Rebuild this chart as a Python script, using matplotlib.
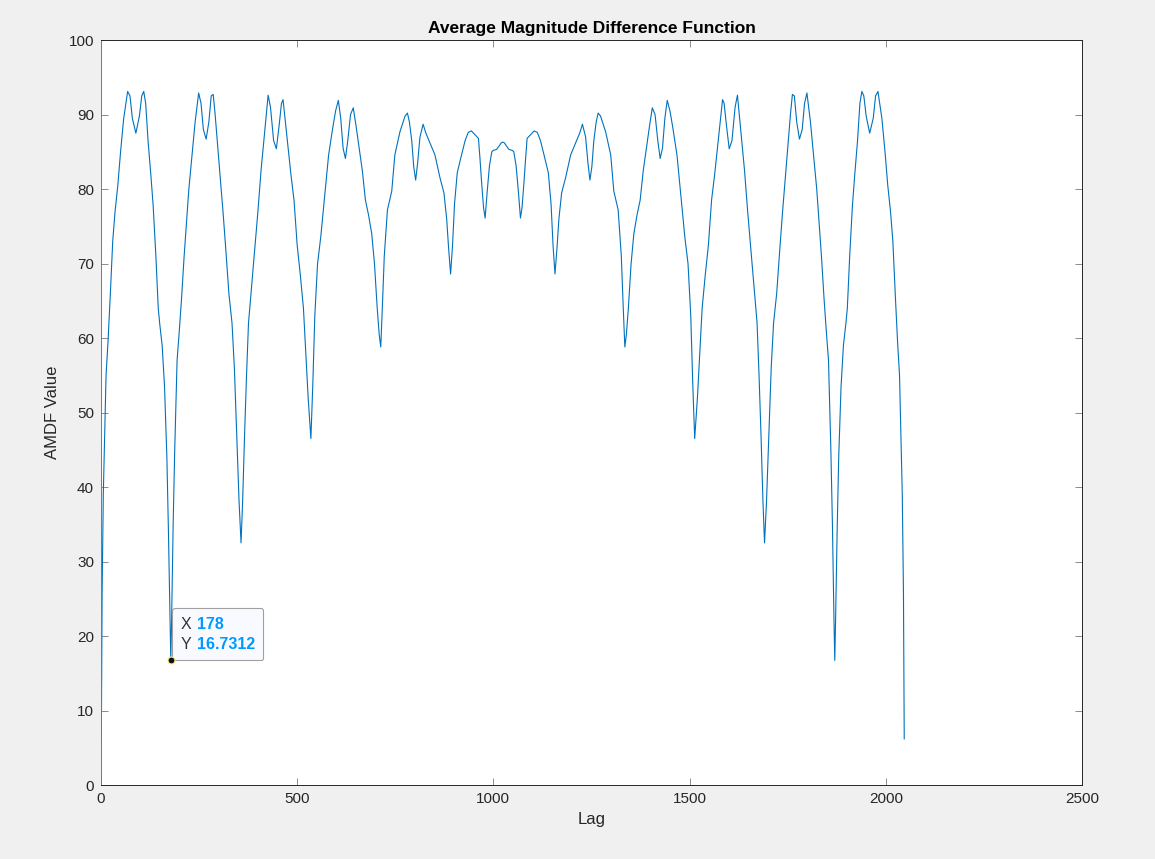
import matplotlib
matplotlib.use("Agg")
import matplotlib.pyplot as plt
from matplotlib.offsetbox import TextArea, HPacker, VPacker, AnnotationBbox

plt.rcParams['font.family'] = ['Liberation Sans', 'DejaVu Sans']

# AMDF curve (lag, value)
lags = [1, 3, 6, 10, 13, 18, 24, 30, 36, 43, 50, 58, 68, 74, 80, 89, 98, 104, 109, 114,
        120, 127, 133, 140, 146, 150, 156, 162, 168, 172, 176, 178, 180, 184, 188, 194, 199,
        205, 212, 218, 224, 232, 240, 249, 255, 261, 268, 275, 281, 286, 291, 297, 304, 311,
        318, 326, 334, 340, 346, 352, 357, 361, 366, 371, 376, 384, 392, 400, 408, 416, 426,
        432, 440, 447, 454, 460, 464, 470, 477, 484, 492, 500, 508, 516, 522, 528, 535, 540,
        545, 552, 560, 570, 580, 590, 598, 605, 611, 617, 623, 629, 636, 643, 650, 658, 666,
        674, 682, 690, 697, 704, 709, 713, 717, 722, 730, 741, 749, 762, 775, 781, 786, 792,
        797, 802, 807, 813, 821, 828, 840, 851, 864, 874, 881, 886, 891, 896, 901, 908, 919,
        928, 936, 944, 953, 962, 966, 970, 975, 979, 984, 990, 996, 1000, 1008, 1015, 1020,
        1024,
        1028, 1033, 1040, 1048, 1052, 1058, 1064, 1069, 1073, 1078, 1082, 1086, 1095, 1104,
        1112, 1120, 1129, 1140, 1147, 1152, 1157, 1162, 1167, 1174, 1184, 1197, 1208, 1220,
        1227, 1235, 1241, 1246, 1251, 1256, 1262, 1267, 1273, 1286, 1299, 1307, 1318, 1326,
        1331, 1335, 1339, 1344, 1351, 1358, 1366, 1374, 1382, 1390, 1398, 1405, 1412, 1419,
        1425, 1431, 1437, 1443, 1450, 1458, 1468, 1478, 1488, 1496, 1503, 1508, 1513, 1520,
        1526, 1532, 1540, 1548, 1556, 1564, 1571, 1578, 1584, 1588, 1594, 1601, 1608, 1616,
        1622, 1632, 1640, 1648, 1656, 1664, 1672, 1677, 1682, 1687, 1691, 1696, 1702, 1708,
        1714, 1722, 1730, 1737, 1744, 1751, 1757, 1762, 1767, 1773, 1780, 1787, 1793, 1799,
        1808, 1816, 1824, 1830, 1836, 1843, 1849, 1854, 1860, 1864, 1868, 1870, 1872, 1876,
        1880, 1886, 1892, 1898, 1902, 1908, 1915, 1921, 1928, 1934, 1939, 1944, 1950, 1959,
        1968, 1974, 1980, 1990, 1998, 2005, 2012, 2018, 2024, 2030, 2035, 2038, 2042, 2045,
        2047]
amdf = [6.2, 26, 39, 48, 55, 59.5, 66, 73, 77, 80.5, 85, 89.5, 93.1, 92.5, 89.5, 87.5, 89.8,
        92.5, 93.1, 91.5, 86.5, 82, 77.8, 71, 64, 61.8, 59, 53.5, 44, 34, 22, 16.73, 22, 35,
        45, 57, 60.5, 65, 71, 75.5, 80, 84.5, 89, 92.9, 91.5, 88, 86.7, 89, 92.5, 92.7, 90, 86,
        81.5, 77, 72, 66, 62, 56, 47, 38, 32.5, 38, 47, 55, 62, 67, 72, 77, 82.5, 87, 92.6,
        91, 86.5, 85.4, 88.5, 91.5, 92, 89, 85.5, 82, 78.5, 72.5, 68.5, 64, 58, 52, 46.5, 54,
        63, 70, 73.5, 79, 84.5, 88, 90.5, 91.9, 89.5, 85.5, 84.1, 86.5, 90, 90.9, 88.5, 85.5,
        82.5, 78.5, 76.5, 74, 70, 64, 60.5, 58.8, 64, 71, 77.2, 79.7, 84.6, 87.7, 89.8, 90.2,
        89, 86.5, 83, 81.2, 83.5, 87, 88.7, 87.5, 86, 84.6, 81.5, 79.5, 76, 72, 68.6, 72.5, 78,
        82.2, 84.6, 86.5, 87.6, 87.8, 87.3, 86.8, 84, 80.9, 77.5, 76.1, 79.5, 83.1, 85, 85.2,
        85.3, 85.8, 86.2,
        86.3,
        86.2, 85.8, 85.3, 85.2, 85.0, 83.1, 79.5, 76.1, 77.5, 80.9, 84, 86.8, 87.3, 87.8,
        87.6, 86.5, 84.6, 82.2, 78, 72.5, 68.6, 72, 76, 79.5, 81.5, 84.6, 86, 87.5, 88.7, 87,
        83.5, 81.2, 83, 86.5, 89, 90.2, 89.8, 87.7, 84.6, 79.7, 77.2, 71, 64, 58.8, 60.5, 64,
        70, 74, 76.5, 78.5, 82.5, 85.5, 88.5, 90.9, 90, 86.5, 84.1, 85.5, 89.5, 91.9, 90.5,
        88, 84.5, 79, 73.5, 70, 63, 54, 46.5, 52, 58, 64, 68.5, 72.5, 78.5, 82, 85.5, 89, 92,
        91.5, 88.5, 85.4, 86.5, 91, 92.6, 87, 82.5, 77, 72, 67, 62, 55, 47, 38, 32.5, 38, 47,
        56, 62, 66, 72, 77, 81.5, 86, 90, 92.7, 92.5, 89, 86.7, 88, 91.5, 92.9, 89, 84.5, 80,
        75.5, 71, 65, 60.5, 57, 45, 35, 22, 16.73, 22, 34, 44, 53.5, 59, 61.8, 64, 71, 77.8,
        82, 86.5, 91.5, 93.1, 92.5, 89.8, 87.5, 89.5, 92.5, 93.1, 89.5, 85, 80.5, 77, 73, 66,
        59.5, 55, 48, 39, 26, 6.2]

tip_x = 178
tip_y = 16.7312

fig = plt.figure(figsize=(11.55, 8.59), dpi=100, facecolor='#f0f0f0')
ax = fig.add_axes([0.0874, 0.0861, 0.8494, 0.8673])
ax.set_facecolor('white')

ax.plot(lags, amdf, color='#0072BD', linewidth=0.8)

ax.set_xlim(0, 2500)
ax.set_ylim(0, 100)
ax.set_xticks([0, 500, 1000, 1500, 2000, 2500])
ax.set_yticks(range(0, 101, 10))
ax.tick_params(direction='in', top=True, right=True, length=5, width=0.6,
               color='#7a7a7a', labelsize=11, labelcolor='#262626', pad=5)
for s in ax.spines.values():
    s.set_color('#262626')
    s.set_linewidth(0.7)
ax.spines['left'].set_color('#777777')

ax.set_title('Average Magnitude Difference Function', fontsize=12.5,
             fontweight='bold', color='black', pad=5)
ax.set_xlabel('Lag', fontsize=12, color='#262626', labelpad=4)
ax.set_ylabel('AMDF Value', fontsize=12, color='#262626', labelpad=6)

# data tip
ax.plot([tip_x], [tip_y], 'o', ms=5, mfc='#111111', mec='#f5f08a', mew=0.8, zorder=5)
dark = dict(color='#333333', fontsize=11.5)
blue = dict(color='#0099ff', fontsize=11.5, fontweight='bold')
row1 = HPacker(children=[TextArea('X', textprops=dark), TextArea('178', textprops=blue)],
               sep=4, align='baseline')
row2 = HPacker(children=[TextArea('Y', textprops=dark), TextArea('16.7312', textprops=blue)],
               sep=4, align='baseline')
box = VPacker(children=[row1, row2], sep=4, pad=0, align='left')
ab = AnnotationBbox(box, (tip_x, tip_y), xybox=(7, 6), xycoords='data',
                    boxcoords='offset points', box_alignment=(0, 0), pad=0,
                    bboxprops=dict(boxstyle='round,pad=0.6,rounding_size=0.2',
                                   fc='#f9faff', ec='#a0a0a0', lw=0.8))
ax.add_artist(ab)

fig.savefig('out.png', dpi=100, facecolor=fig.get_facecolor())
